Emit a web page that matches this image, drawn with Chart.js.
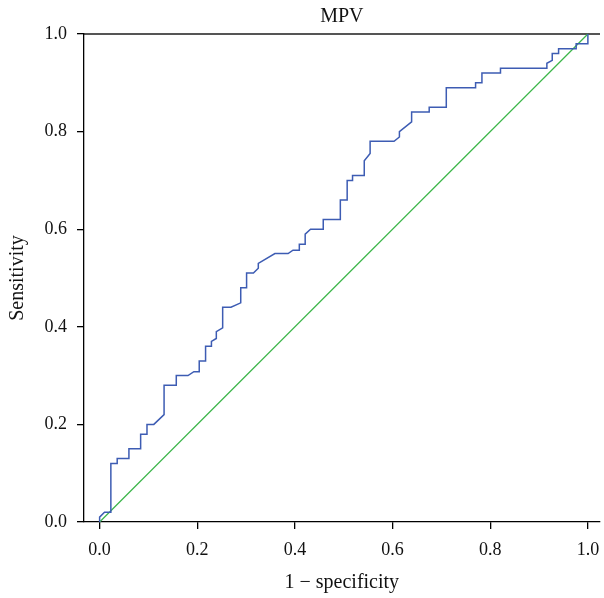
<!DOCTYPE html>
<html>
<head>
<meta charset="utf-8">
<script src="https://cdn.jsdelivr.net/npm/chart.js@4"></script>
<style>
  html, body { margin: 0; padding: 0; background: #fff; }
  #wrap { width: 604px; height: 598px; }
</style>
</head>
<body>
<div id="wrap"><canvas id="roc"></canvas></div>
<script>
// ROC curve corners
const fpr = [0, 0, 0.010, 0.023, 0.023, 0.036, 0.036, 0.060, 0.060, 0.084,
  0.084, 0.097, 0.097, 0.111, 0.132, 0.132, 0.157, 0.157, 0.181, 0.193,
  0.204, 0.204, 0.217, 0.217, 0.229, 0.229, 0.239, 0.239, 0.252, 0.252,
  0.269, 0.289, 0.289, 0.301, 0.301, 0.315, 0.325, 0.325, 0.359, 0.386,
  0.396, 0.409, 0.409, 0.421, 0.421, 0.432, 0.458, 0.458, 0.493, 0.493,
  0.507, 0.507, 0.518, 0.518, 0.542, 0.542, 0.554, 0.554, 0.603, 0.614,
  0.614, 0.639, 0.639, 0.675, 0.675, 0.710, 0.710, 0.770, 0.770, 0.783,
  0.783, 0.821, 0.821, 0.916, 0.916, 0.927, 0.927, 0.940, 0.940, 0.976,
  0.976, 1.0, 1.0];
const tpr = [0, 0.01, 0.02, 0.02, 0.12, 0.12, 0.13, 0.13, 0.15, 0.15,
  0.18, 0.18, 0.20, 0.20, 0.22, 0.28, 0.28, 0.30, 0.30, 0.308,
  0.308, 0.33, 0.33, 0.36, 0.36, 0.37, 0.376, 0.39, 0.398, 0.44,
  0.44, 0.449, 0.48, 0.48, 0.51, 0.51, 0.52, 0.53, 0.55, 0.55,
  0.557, 0.557, 0.569, 0.569, 0.59, 0.60, 0.60, 0.62, 0.62, 0.66,
  0.66, 0.70, 0.70, 0.71, 0.71, 0.74, 0.755, 0.78, 0.78, 0.789,
  0.80, 0.82, 0.84, 0.84, 0.85, 0.85, 0.89, 0.89, 0.90, 0.90,
  0.92, 0.92, 0.93, 0.93, 0.94, 0.946, 0.96, 0.96, 0.97, 0.97,
  0.98, 0.98, 1.0];
const refX = [0, 1];
const refY = [0, 1];
const tickValues = [0, 0.2, 0.4, 0.6, 0.8, 1.0];

const serif = "'Liberation Serif', 'DejaVu Serif', serif";

const setTicks = scale => {
  scale.ticks = tickValues.map(v => ({ value: v }));
};

new Chart(document.getElementById('roc'), {
  type: 'scatter',
  data: {
    datasets: [{
      data: fpr.map((x, i) => ({ x: x, y: tpr[i] })),
      showLine: true,
      borderColor: '#3d5cb3',
      borderWidth: 1.5,
      pointRadius: 0,
      clip: false
    }, {
      data: refX.map((x, i) => ({ x: x, y: refY[i] })),
      showLine: true,
      borderColor: '#3cb64a',
      borderWidth: 1.2,
      pointRadius: 0,
      clip: false
    }]
  },
  options: {
    responsive: true,
    maintainAspectRatio: false,
    animation: false,
    layout: { padding: { right: 4.4 } },
    plugins: {
      legend: { display: false },
      tooltip: { enabled: false }
    },
    scales: {
      // top axis only carries the "MPV" title and the grey frame line
      top: {
        type: 'linear',
        position: 'top',
        min: -0.032,
        max: 1.024,
        afterFit: s => { s.height = 34; s.paddingLeft = 0; s.paddingRight = 0; },
        border: { display: true, color: '#555', width: 2 },
        grid: { display: false, drawTicks: false },
        ticks: { display: false },
        title: {
          display: true,
          text: 'MPV',
          color: '#111',
          font: { family: serif, size: 20 },
          padding: { top: 5, bottom: 0 }
        }
      },
      x: {
        type: 'linear',
        position: 'bottom',
        min: -0.032,
        max: 1.024,
        afterBuildTicks: setTicks,
        afterFit: s => { s.height = 76; s.paddingLeft = 0; s.paddingRight = 0; },
        border: { display: true, color: '#000', width: 1.3 },
        grid: { drawOnChartArea: false, drawTicks: true, tickLength: 7, color: '#000', lineWidth: 1.3 },
        ticks: {
          color: '#111',
          padding: 10,
          maxRotation: 0,
          font: { family: serif, size: 18 },
          callback: v => v.toFixed(1)
        },
        title: {
          display: true,
          text: '1 \u2212 specificity',
          color: '#111',
          font: { family: serif, size: 20 },
          padding: { top: 0, bottom: 3 }
        }
      },
      y: {
        type: 'linear',
        min: 0,
        max: 1,
        afterBuildTicks: setTicks,
        afterFit: s => { s.width = 84; s.paddingTop = 0; s.paddingBottom = 0; },
        border: { display: true, color: '#000', width: 1.3 },
        grid: { drawOnChartArea: false, drawTicks: true, tickLength: 7, color: '#000', lineWidth: 1.3 },
        ticks: {
          color: '#111',
          padding: 10,
          font: { family: serif, size: 18 },
          callback: v => v.toFixed(1)
        },
        title: {
          display: true,
          text: 'Sensitivity',
          color: '#111',
          font: { family: serif, size: 20 },
          padding: { top: 6, bottom: 0 }
        }
      }
    }
  }
});
</script>
</body>
</html>
